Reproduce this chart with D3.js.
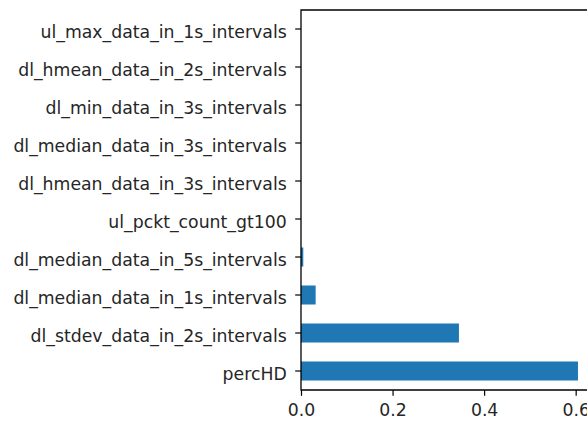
<!DOCTYPE html>
<html>
<head>
<meta charset="utf-8">
<script src="https://cdn.jsdelivr.net/npm/d3@7"></script>
<style>
  body { margin: 0; background: #fff; }
  svg { display: block; font-family: "DejaVu Sans", sans-serif; }
</style>
</head>
<body>
<div id="chart"></div>
<script>
// features, listed top to bottom as they appear
const features = [
    'ul_max_data_in_1s_intervals',
    'dl_hmean_data_in_2s_intervals',
    'dl_min_data_in_3s_intervals',
    'dl_median_data_in_3s_intervals',
    'dl_hmean_data_in_3s_intervals',
    'ul_pckt_count_gt100',
    'dl_median_data_in_5s_intervals',
    'dl_median_data_in_1s_intervals',
    'dl_stdev_data_in_2s_intervals',
    'percHD'
]
const importances = [0, 0, 0, 0, 0, 0, 0.005, 0.032, 0.345, 0.605]
const xTicks = [0.0, 0.2, 0.4, 0.6]

const width = 587
const height = 423
const margin = { top: 10, left: 301, bottom: 390 }
const fontSize = 17.3
const tickLen = 5.8
const textColor = '#262626'

const svg = d3.select('#chart').append('svg')
    .attr('width', width)
    .attr('height', height)

const data = features.map((f, i) => ({ name: f, value: importances[i] }))

const xMax = d3.max(importances) * 1.05
const x = d3.scaleLinear()
    .domain([0, xMax])
    .range([margin.left, margin.left + xMax * 457.8])

const y = d3.scaleBand()
    .domain(features)
    .range([margin.top, margin.bottom])
    .paddingInner(0.5)
    .paddingOuter(0.25)

// bars
svg.append('g')
    .selectAll('rect')
    .data(data)
    .enter()
    .append('rect')
    .attr('x', x(0))
    .attr('y', d => y(d.name))
    .attr('width', d => x(d.value) - x(0))
    .attr('height', y.bandwidth())
    .attr('fill', '#1f77b4')

// x axis
const xAxis = d3.axisBottom(x)
    .tickValues(xTicks)
    .tickFormat(d3.format('.1f'))
    .tickSize(tickLen)
    .tickPadding(7.5)

svg.append('g')
    .attr('transform', `translate(0, ${margin.bottom})`)
    .call(xAxis)
    .call(g => g.select('.domain').remove())
    .call(g => g.selectAll('line').attr('stroke', '#000').attr('stroke-width', 1.2))
    .call(g => g.selectAll('text')
        .attr('fill', textColor)
        .style('font-size', fontSize + 'px')
        .style('font-family', '"DejaVu Sans", sans-serif'))

// y axis
const yAxis = d3.axisLeft(y)
    .tickSize(tickLen)
    .tickPadding(8.5)

svg.append('g')
    .attr('transform', `translate(${margin.left}, 0)`)
    .call(yAxis)
    .call(g => g.select('.domain').remove())
    .call(g => g.selectAll('line').attr('stroke', '#000').attr('stroke-width', 1.2))
    .call(g => g.selectAll('text')
        .attr('fill', textColor)
        .attr('dy', '0.5em')
        .style('font-size', fontSize + 'px')
        .style('font-family', '"DejaVu Sans", sans-serif'))

// spines (right one falls outside the window)
const right = x.range()[1]
svg.append('path')
    .attr('d', `M${right},${margin.top}H${margin.left}V${margin.bottom}H${right}V${margin.top}`)
    .attr('fill', 'none')
    .attr('stroke', '#000')
    .attr('stroke-width', 1.3)
</script>
</body>
</html>
